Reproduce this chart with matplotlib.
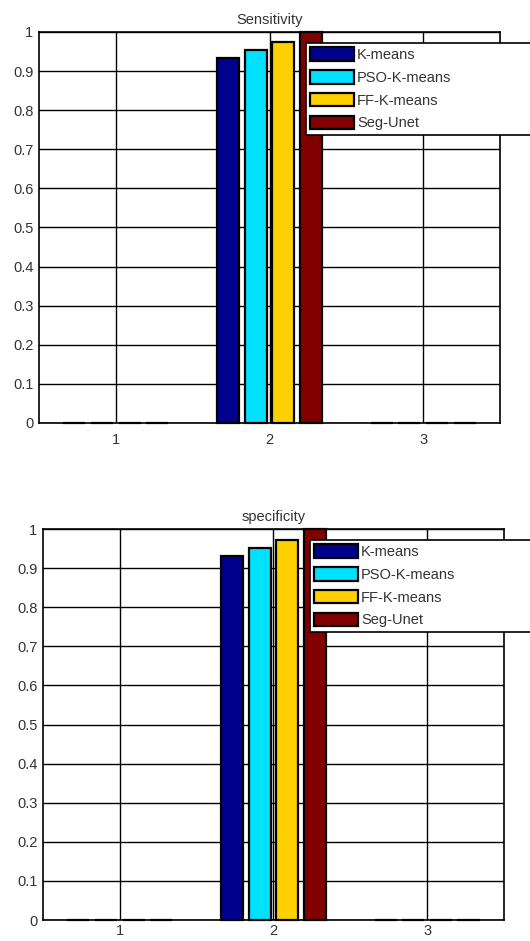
import matplotlib.pyplot as plt
import numpy as np

plt.rcParams["font.family"] = ["Liberation Sans", "DejaVu Sans"]

groups = [1, 2, 3]
methods = ["K-means", "PSO-K-means", "FF-K-means", "Seg-Unet"]
colors = ["#00008f", "#00e0ff", "#ffd000", "#800000"]

# one list per method, values for groups 1, 2, 3
sens_kmeans = [0, 0.933, 0]
sens_pso = [0, 0.953, 0]
sens_ff = [0, 0.974, 0]
sens_unet = [0, 1.0, 0]

spec_kmeans = [0, 0.931, 0]
spec_pso = [0, 0.951, 0]
spec_ff = [0, 0.972, 0]
spec_unet = [0, 1.0, 0]

yticks = [0, 0.1, 0.2, 0.3, 0.4, 0.5, 0.6, 0.7, 0.8, 0.9, 1]
ytick_labels = ["0", "0.1", "0.2", "0.3", "0.4", "0.5", "0.6", "0.7", "0.8", "0.9", "1"]


def draw(ax, title, series, xpad):
    x = np.array(groups, dtype=float)
    step = 0.18
    width = 0.145
    handles = []
    for i, (vals, col) in enumerate(zip(series, colors)):
        b = ax.bar(x + (i - 1.5) * step, vals, width, color=col,
                   edgecolor="black", linewidth=1.6, zorder=3, clip_on=False)
        handles.append(b)
    ax.set_xlim(0.5, 3.5)
    ax.set_ylim(0, 1)
    ax.set_xticks(groups)
    ax.set_yticks(yticks)
    ax.set_yticklabels(ytick_labels)
    ax.grid(True, color="black", linewidth=1.0, linestyle="-")
    ax.set_axisbelow(True)
    ax.tick_params(length=0, labelsize=10.5, colors="#333333", pad=4)
    ax.tick_params(axis="x", pad=xpad)
    for s in ax.spines.values():
        s.set_linewidth(1.2)
    ax.set_title(title, fontsize=10.5, color="#333333", pad=6)
    # legend box runs past the right edge of the figure, as in the original
    leg = ax.legend(handles, methods, loc="upper left", mode="expand",
                    bbox_to_anchor=(0.579, 0.0, 0.56, 0.972), fontsize=10.5,
                    frameon=True, fancybox=False, framealpha=1,
                    edgecolor="black", handlelength=3.0, handleheight=1.05,
                    handletextpad=0.2, labelspacing=0.55, borderpad=0.3,
                    borderaxespad=0)
    leg.get_frame().set_linewidth(1.2)
    leg.set_zorder(5)
    for t in leg.get_texts():
        t.set_color("#333333")


def main():
    fig = plt.figure(figsize=(5.30, 9.41), dpi=100)
    ax1 = fig.add_axes([0.0736, 0.5505, 0.8698, 0.4155])
    ax2 = fig.add_axes([0.0811, 0.0223, 0.8698, 0.4155])

    draw(ax1, "Sensitivity", [sens_kmeans, sens_pso, sens_ff, sens_unet], 7)
    draw(ax2, "specificity", [spec_kmeans, spec_pso, spec_ff, spec_unet], 3)

    fig.savefig("out.png", dpi=100)


if __name__ == "__main__":
    main()
